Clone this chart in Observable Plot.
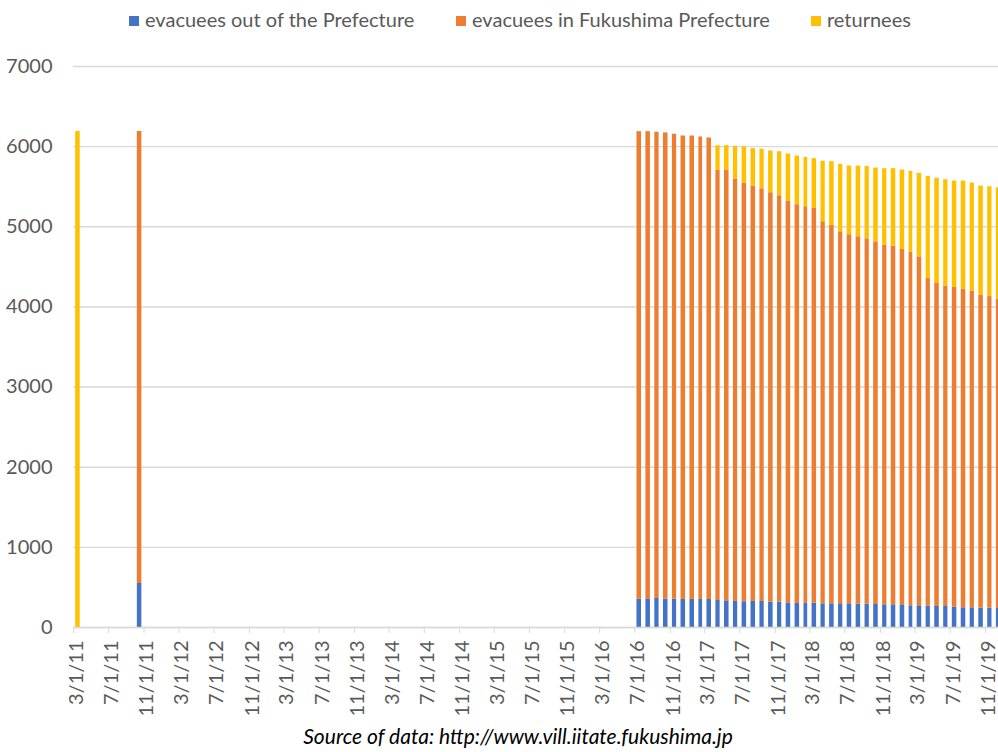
<!DOCTYPE html>
<html>
<head>
<meta charset="utf-8">
<script src="https://cdn.jsdelivr.net/npm/d3@7"></script>
<script src="https://cdn.jsdelivr.net/npm/@observablehq/plot@0.6"></script>
<style>
  html, body { margin: 0; padding: 0; background: #fff; }
  body { width: 998px; height: 752px; position: relative; overflow: hidden; font-family: Lato, "Open Sans", sans-serif; }
  #legend { position: absolute; top: 0; left: 0; width: 998px; height: 40px; font-size: 20px; color: #595959; }
  .item { position: absolute; top: 7px; line-height: 24px; white-space: nowrap; }
  .sw { display: inline-block; width: 10px; height: 10px; margin-right: 6px; vertical-align: 1px; }
  #chart { position: absolute; top: 0; left: 0; }
  #caption { position: absolute; left: 0; width: 998px; top: 723px; text-align: center; font-style: italic; font-size: 21px; color: #000; padding-left: 38px; box-sizing: border-box; }
</style>
</head>
<body>
<div id="chart"></div>
<div id="legend"></div>
<div id="caption">Source of data: http://www.vill.iitate.fukushima.jp</div>
<script>
// ---- data ----
const seriesNames = ["evacuees out of the Prefecture", "evacuees in Fukushima Prefecture", "returnees"];
const seriesColors = ["#4472C4", "#ED7D31", "#FFC000"];

const months = [
  "2011-03", "2011-10",
  "2016-07", "2016-08", "2016-09", "2016-10", "2016-11", "2016-12",
  "2017-01", "2017-02", "2017-03", "2017-04", "2017-05", "2017-06",
  "2017-07", "2017-08", "2017-09", "2017-10", "2017-11", "2017-12",
  "2018-01", "2018-02", "2018-03", "2018-04", "2018-05", "2018-06",
  "2018-07", "2018-08", "2018-09", "2018-10", "2018-11", "2018-12",
  "2019-01", "2019-02", "2019-03", "2019-04", "2019-05", "2019-06",
  "2019-07", "2019-08", "2019-09", "2019-10", "2019-11", "2019-12"
];

const outOfPrefecture = [
  0, 549,
  354, 358, 362, 354, 354, 350,
  350, 350, 350, 337, 333, 325,
  321, 325, 325, 317, 317, 308,
  300, 300, 304, 296, 296, 296,
  296, 292, 292, 287, 283, 283,
  283, 271, 271, 267, 262, 262,
  254, 246, 246, 242, 242, 237
];

const inFukushima = [
  0, 5641,
  5833, 5829, 5818, 5817, 5801, 5783,
  5783, 5771, 5758, 5367, 5371, 5271,
  5225, 5183, 5150, 5108, 5070, 5013,
  4975, 4950, 4925, 4767, 4721, 4642,
  4604, 4583, 4558, 4525, 4488, 4475,
  4433, 4408, 4354, 4087, 4030, 3996,
  3988, 3975, 3950, 3908, 3887, 3859
];

const returnees = [
  6190, 0,
  0, 0, 0, 0, 0, 0,
  0, 0, 0, 308, 308, 408,
  450, 467, 492, 521, 550, 587,
  608, 617, 621, 754, 795, 841,
  858, 883, 904, 921, 954, 967,
  992, 1013, 1042, 1275, 1312, 1329,
  1329, 1350, 1350, 1358, 1371, 1391
];

const xTickLabels = [
  "3/1/11", "7/1/11", "11/1/11", "3/1/12", "7/1/12", "11/1/12",
  "3/1/13", "7/1/13", "11/1/13", "3/1/14", "7/1/14", "11/1/14",
  "3/1/15", "7/1/15", "11/1/15", "3/1/16", "7/1/16", "11/1/16",
  "3/1/17", "7/1/17", "11/1/17", "3/1/18", "7/1/18", "11/1/18",
  "3/1/19", "7/1/19", "11/1/19"
];
const yTicks = [0, 1000, 2000, 3000, 4000, 5000, 6000, 7000];

// ---- build table ----
const parseMonth = d3.utcParse("%Y-%m");
const parseTick = d3.utcParse("%m/%d/%y");
const seriesValues = [outOfPrefecture, inFukushima, returnees];
const data = [];
months.forEach((m, i) => {
  seriesNames.forEach((s, k) => {
    data.push({date: parseMonth(m), series: s, value: seriesValues[k][i]});
  });
});
const tickDates = xTickLabels.map(parseTick);
const labelByTime = new Map(tickDates.map((d, i) => [+d, xTickLabels[i]]));

// ---- legend ----
const legendLeft = [129, 456, 811];
const legend = document.getElementById("legend");
seriesNames.forEach((s, k) => {
  const it = document.createElement("div");
  it.className = "item";
  it.style.left = legendLeft[k] + "px";
  it.innerHTML = `<span class="sw" style="background:${seriesColors[k]}"></span>${s}`;
  legend.appendChild(it);
});

// ---- chart ----
const chart = Plot.plot({
  width: 998,
  height: 710,
  marginTop: 66,
  marginBottom: 83,
  marginLeft: 73,
  marginRight: 0,
  style: {fontFamily: "Lato, 'Open Sans', sans-serif", fontSize: "20px", color: "#595959", background: "transparent", overflow: "visible"},
  x: {type: "utc", domain: [new Date(Date.UTC(2011, 2, 1)), new Date(Date.UTC(2019, 11, 16))]},
  y: {domain: [0, 7000]},
  color: {domain: seriesNames, range: seriesColors},
  marks: [
    Plot.gridY(yTicks, {stroke: "#D9D9D9", strokeOpacity: 1, strokeWidth: 1.4}),
    Plot.rectY(data, {x: "date", interval: "month", y: "value", fill: "series", insetLeft: 2.2, insetRight: 2.2, clip: true}),
    Plot.axisY(yTicks, {tickSize: 0, tickPadding: 21, fontSize: 20, fill: "#595959", label: null, tickFormat: d => String(d)}),
    Plot.axisX(tickDates, {tickSize: 6, stroke: "#D9D9D9", text: null, label: null}),
    Plot.axisX(tickDates, {tickSize: 0, tickPadding: 13, tickRotate: -90, fill: "#595959", fontSize: 20,
      dx: 3, tickFormat: d => labelByTime.get(+d), label: null}),
    Plot.ruleY([0], {stroke: "#D9D9D9", strokeWidth: 1.4})
  ]
});
document.getElementById("chart").appendChild(chart);
</script>
</body>
</html>
